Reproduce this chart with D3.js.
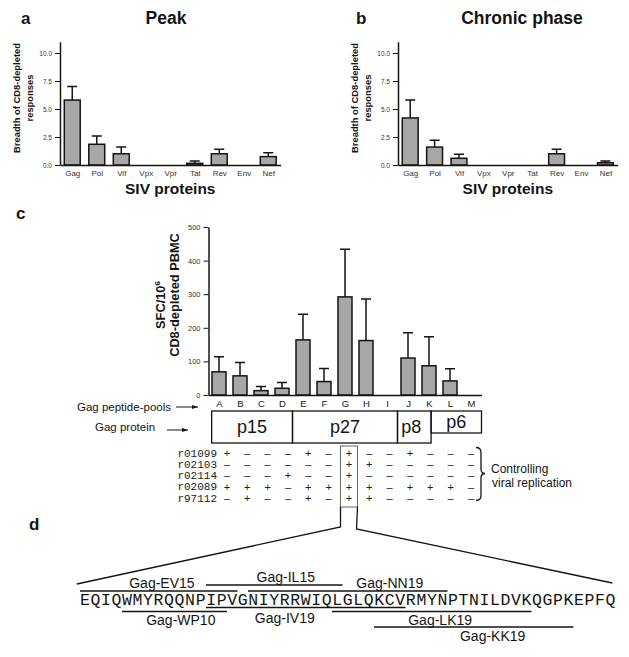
<!DOCTYPE html>
<html><head><meta charset="utf-8">
<script src="https://cdn.jsdelivr.net/npm/d3@7"></script>
<style>
body{margin:0;background:#fff}
svg{display:block;background:#fff}
</style>
</head><body>
<svg id="chart" width="629" height="657"></svg>
<script>
// ---------------- DATA ----------------
const sivProteins = ["Gag","Pol","Vif","Vpx","Vpr","Tat","Rev","Env","Nef"];
const peakMean    = [5.8, 1.85, 1.0, 0, 0, 0.15, 1.0, 0, 0.75];
const peakUpper   = [7.0, 2.6, 1.6, 0, 0, 0.35, 1.4, 0, 1.1];
const chronicMean = [4.2, 1.6, 0.6, 0, 0, 0, 1.0, 0, 0.2];
const chronicUpper= [5.8, 2.2, 0.95, 0, 0, 0, 1.4, 0, 0.35];
const breadthTicks = [0, 2.5, 5, 7.5, 10];

const peptidePools = ["A","B","C","D","E","F","G","H","I","J","K","L","M"];
const sfcMean  = [69, 57, 13, 20, 164, 40, 292, 162, 0, 110, 87, 42, 0];
const sfcUpper = [114, 97, 25, 37, 240, 79, 434, 286, 0, 185, 173, 78, 0];
const sfcTicks = [0, 100, 200, 300, 400, 500];

const gagProteins     = ["p15","p27","p8","p6"];
const gagProteinStart = [0.15, 4, 9, 10.6];   // in peptide-pool units
const gagProteinEnd   = [4, 9, 10.6, 13];

const animals = ["r01099","r02103","r02114","r02089","r97112"];
const controlCalls = [
  ["+","-","-","-","+","-","+","-","-","+","-","-","-"],
  ["-","-","-","-","-","-","+","+","-","-","-","-","-"],
  ["-","-","-","+","-","-","+","-","-","-","-","-","-"],
  ["+","+","+","-","+","+","+","+","-","+","+","+","-"],
  ["-","+","-","-","+","-","+","+","-","-","-","-","-"]
];
const highlightedPool = "G";

const gagSequence = "EQIQWMYRQQNPIPVGNIYRRWIQLGLQKCVRMYNPTNILDVKQGPKEPFQ";
const peptideNames  = ["Gag-EV15","Gag-IL15","Gag-NN19","Gag-IV19","Gag-WP10","Gag-LK19","Gag-KK19"];
const peptideStart  = [0, 12, 16, 12, 4, 24, 28];     // residue index (0-based)
const peptideEnd    = [15, 25, 35, 31, 14, 43, 47];   // exclusive
const peptideSide   = ["above","above","above","below","below","below","below"];
const peptideLabelAt= [7.3, 19.1, 29, 19, 9.1, 33.8, 38.8]; // residue units

// ---------------- DRAWING ----------------
const FF = '"Liberation Sans", Arial, Helvetica, sans-serif';
const MONO = '"Liberation Mono", "Courier New", monospace';
const INK = "#141414";
const svg = d3.select("#chart");
svg.append("rect").attr("width",629).attr("height",657).attr("fill","#fff");

const defs = svg.append("defs");
defs.append("marker").attr("id","arr").attr("viewBox","0 0 10 10").attr("refX",10).attr("refY",5)
  .attr("markerWidth",6).attr("markerHeight",6).attr("orient","auto")
  .append("path").attr("d","M0,1.5L10,5L0,8.5Z").attr("fill",INK);

function txt(g, x, y, s, size, opts={}) {
  return g.append("text").attr("x",x).attr("y",y).text(s)
    .attr("font-family", opts.family || FF).attr("font-size", size)
    .attr("font-weight", opts.weight || "normal").attr("fill", opts.fill || INK)
    .attr("text-anchor", opts.anchor || "start");
}

function breadthPanel(cfg) {
  const g = svg.append("g");
  const x = d3.scalePoint().domain(sivProteins).range([cfg.x0, cfg.x1]).padding(0.5);
  const y = d3.scaleLinear().domain([0, 11]).range([165, 41.8]);
  const bw = x.step() * 0.65;
  const data = sivProteins.map((p,i)=>({p, m:cfg.mean[i], u:cfg.upper[i]})).filter(d=>d.m>0);
  g.selectAll("path.eb").data(data).join("path").attr("class","eb")
    .attr("d", d=>`M${x(d.p)},${y(d.m)}V${y(d.u)}M${x(d.p)-5},${y(d.u)}H${x(d.p)+5}`)
    .attr("stroke",INK).attr("stroke-width",1.5).attr("fill","none");
  g.selectAll("rect.bar").data(data).join("rect").attr("class","bar")
    .attr("x", d=>x(d.p)-bw/2).attr("y", d=>y(d.m))
    .attr("width", bw).attr("height", d=>y(0)-y(d.m))
    .attr("fill","#a7a7a7").attr("stroke",INK).attr("stroke-width",1.5);

  const ya = g.append("g").attr("transform",`translate(${cfg.x0},0)`)
    .call(d3.axisLeft(y).tickValues(breadthTicks).tickFormat(d3.format(".1f"))
      .tickSize(5).tickPadding(3).tickSizeOuter(0));
  ya.select(".domain").attr("stroke",INK).attr("stroke-width",1.5);
  ya.selectAll(".tick line").attr("stroke",INK).attr("stroke-width",1);
  ya.selectAll("text").attr("font-family",FF).attr("font-size",6.5).attr("fill","#333");

  const xa = g.append("g").attr("transform",`translate(0,${y(0)})`)
    .call(d3.axisBottom(x).tickSize(0).tickPadding(5).tickSizeOuter(0));
  xa.select(".domain").attr("stroke",INK).attr("stroke-width",1.5);
  xa.selectAll("text").attr("font-family",FF).attr("font-size",8).attr("fill","#333");

  txt(g, cfg.titleX, cfg.titleY, cfg.title, 17.5, {weight:"bold", anchor:"middle"});
  txt(g, cfg.letterX, cfg.titleY, cfg.letter, 17, {weight:"bold"});
  txt(g, (cfg.x0+cfg.x1)/2, 194, "SIV proteins", 15.5, {weight:"bold", anchor:"middle"});
  const yt = g.append("text").attr("transform",`translate(${cfg.ytX},98) rotate(-90)`)
    .attr("font-family",FF).attr("font-size",9.4).attr("font-weight","bold").attr("fill",INK)
    .attr("text-anchor","middle");
  yt.append("tspan").attr("x",0).attr("y",0).text("Breadth of CD8-depleted");
  yt.append("tspan").attr("x",0).attr("y",13).text("responses");
}

breadthPanel({x0:60, x1:280.5, mean:peakMean, upper:peakUpper, title:"Peak", titleX:166, titleY:24, letter:"a", letterX:21, ytX:20});
breadthPanel({x0:398, x1:617.6, mean:chronicMean, upper:chronicUpper, title:"Chronic phase", titleX:522, titleY:24, letter:"b", letterX:356, ytX:358});

// ---------- Panel c ----------
const gc = svg.append("g");
const xc = d3.scalePoint().domain(peptidePools).range([208.5, 481.5]).padding(0.5);
const yc = d3.scaleLinear().domain([0, 500]).range([395, 227]);
const bwc = xc.step() * 0.667;
const cData = peptidePools.map((p,i)=>({p, m:sfcMean[i], u:sfcUpper[i]})).filter(d=>d.m>0);
gc.selectAll("path.eb").data(cData).join("path").attr("class","eb")
  .attr("d", d=>`M${xc(d.p)},${yc(d.m)}V${yc(d.u)}M${xc(d.p)-5},${yc(d.u)}H${xc(d.p)+5}`)
  .attr("stroke",INK).attr("stroke-width",1.5).attr("fill","none");
gc.selectAll("rect.bar").data(cData).join("rect").attr("class","bar")
  .attr("x", d=>xc(d.p)-bwc/2).attr("y", d=>yc(d.m))
  .attr("width", bwc).attr("height", d=>yc(0)-yc(d.m))
  .attr("fill","#a7a7a7").attr("stroke",INK).attr("stroke-width",1.5);
const yca = gc.append("g").attr("transform","translate(208.5,0)")
  .call(d3.axisLeft(yc).tickValues(sfcTicks).tickSize(5).tickPadding(3).tickSizeOuter(0));
yca.select(".domain").attr("stroke",INK).attr("stroke-width",1.5);
yca.selectAll(".tick line").attr("stroke",INK);
yca.selectAll("text").attr("font-family",FF).attr("font-size",7.5).attr("fill","#333");
const xca = gc.append("g").attr("transform",`translate(0,${yc(0)})`)
  .call(d3.axisBottom(xc).tickSize(0).tickPadding(5).tickSizeOuter(0));
xca.select(".domain").attr("stroke",INK).attr("stroke-width",1.5);
xca.selectAll("text").attr("font-family",FF).attr("font-size",9.5).attr("fill",INK);

txt(gc, 16, 219, "c", 17, {weight:"bold"});
const yct1 = gc.append("text").attr("transform","translate(165,305) rotate(-90)")
  .attr("font-family",FF).attr("font-size",12.8).attr("font-weight","bold").attr("fill",INK).attr("text-anchor","middle");
yct1.append("tspan").text("SFC/10");
yct1.append("tspan").attr("font-size",8).attr("dy",-5).text("6");
gc.append("text").attr("transform","translate(179,295) rotate(-90)")
  .attr("font-family",FF).attr("font-size",12.8).attr("font-weight","bold").attr("fill",INK)
  .attr("text-anchor","middle").text("CD8-depleted PBMC");

// Left labels with arrows
txt(gc, 77, 411, "Gag peptide-pools", 11.5);
gc.append("line").attr("x1",176).attr("x2",198).attr("y1",407).attr("y2",407)
  .attr("stroke",INK).attr("stroke-width",1).attr("marker-end","url(#arr)");
txt(gc, 95, 431, "Gag protein", 11.5);
gc.append("line").attr("x1",167).attr("x2",188).attr("y1",430).attr("y2",430)
  .attr("stroke",INK).attr("stroke-width",1).attr("marker-end","url(#arr)");

// Gag protein boxes
const poolUnit = u => xc.range()[0] + u * xc.step();
gagProteins.forEach((name,i)=>{
  const x0 = poolUnit(gagProteinStart[i]), x1 = poolUnit(gagProteinEnd[i]);
  const short = (i === gagProteins.length-1);
  const y0 = 411, y1 = short ? 433 : 443;
  gc.append("rect").attr("x",x0).attr("y",y0).attr("width",x1-x0).attr("height",y1-y0)
    .attr("fill","none").attr("stroke",INK).attr("stroke-width",1.3);
  txt(gc, (x0+x1)/2 - (i===2?3:0), short ? 428 : 433, name, 18, {anchor:"middle"});
});

// Table of controllers
const xt = d3.scalePoint().domain(peptidePools).range([227, 471]);
const yt = d3.scalePoint().domain(animals).range([453, 498]);
animals.forEach((a,r)=>{
  txt(gc, 217, yt(a)+3.5, a, 11, {family:MONO, anchor:"end", fill:"#222"});
  controlCalls[r].forEach((s,c)=>{
    txt(gc, xt(peptidePools[c]), yt(a)+3.8, s==="+"?"+":"\u2013", 11, {anchor:"middle", fill:"#222"});
  });
});
// highlight box around G column
const gx = xt(highlightedPool);
gc.append("rect").attr("x",gx-8.5).attr("y",446).attr("width",17).attr("height",61)
  .attr("fill","none").attr("stroke","#666").attr("stroke-width",1);
// bracket
gc.append("path").attr("d","M476,447.5Q481,447.5 481,452.5L481,469Q481,473.5 485,473.5Q481,473.5 481,478L481,495.5Q481,500.5 476,500.5")
  .attr("fill","none").attr("stroke",INK).attr("stroke-width",1.3);
txt(gc, 491, 473, "Controlling", 12);
txt(gc, 492, 487, "viral replication", 12);

// ---------- Panel d ----------
const gd = svg.append("g");
txt(gd, 29, 530, "d", 17, {weight:"bold"});
const xs = d3.scaleLinear().domain([0, gagSequence.length]).range([80, 615.5]);
// zoom connector lines
gd.append("path").attr("d",`M${gx-8.5},507L${gx-8.5},527L${xs(-0.3)},584`)
  .attr("fill","none").attr("stroke",INK).attr("stroke-width",1.3);
gd.append("path").attr("d",`M${gx+8.5},507L${gx+7.5},529L${xs(gagSequence.length-0.3)},583`)
  .attr("fill","none").attr("stroke",INK).attr("stroke-width",1.3);

gd.append("text").attr("x",xs(0)).attr("y",605).attr("font-family",MONO).attr("font-size",16.5)
  .attr("fill",INK).attr("textLength",xs(gagSequence.length)-xs(0)).attr("lengthAdjust","spacing")
  .text(gagSequence);

// assign tracks greedily per side
const tracks = {above:[], below:[]};
const peptideTrack = peptideNames.map((n,i)=>{
  const side = tracks[peptideSide[i]];
  let t = 0;
  while (side[t] && side[t].some(j => peptideStart[i] < peptideEnd[j] && peptideStart[j] < peptideEnd[i])) t++;
  (side[t] = side[t] || []).push(i);
  return t;
});
peptideNames.forEach((n,i)=>{
  const side = peptideSide[i], t = peptideTrack[i];
  const ly = side==="above" ? [591,585][t] : [607.5,611.5,627][t];
  gd.append("line").attr("x1",xs(peptideStart[i])).attr("x2",xs(peptideEnd[i]))
    .attr("y1",ly).attr("y2",ly).attr("stroke",INK).attr("stroke-width",1.3);
  const by = side==="above" ? ly-3.5 : ly + (t===0?15.5:13.5);
  txt(gd, xs(peptideLabelAt[i]+0.5), by, n, 14, {anchor:"middle"});
});
</script>
</body></html>
